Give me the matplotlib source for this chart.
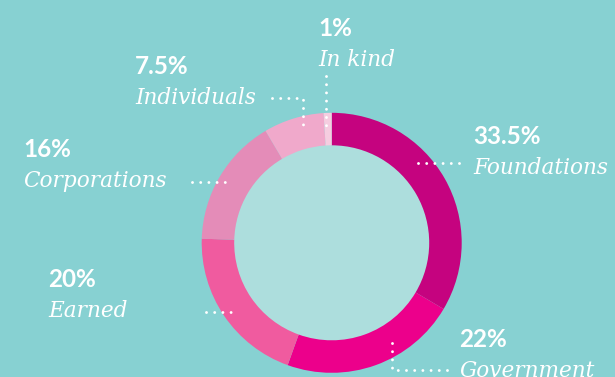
import matplotlib.pyplot as plt

# funding sources, clockwise from 12 o'clock
sources = ['Foundations', 'Government', 'Earned', 'Corporations', 'Individuals', 'In kind']
shares = [33.5, 22, 20, 16, 7.5, 1]
pct_labels = ['33.5%', '22%', '20%', '16%', '7.5%', '1%']
colors = ['#c5037f', '#ec008b', '#f05b9f', '#e48cb8', '#f0a9cb', '#f5cde0']

BG = '#87d1d2'
INNER = '#addedd'
W, H = 615, 377


def fy(y):
    # image pixel row -> data y (origin at bottom)
    return H - y


fig = plt.figure(figsize=(W / 100, H / 100), dpi=100, facecolor=BG)
ax = fig.add_axes([0, 0, 1, 1])
ax.set_facecolor(BG)

cx, cy = 331.7, fy(242.8)
ax.add_patch(plt.Circle((cx, cy), 98, color=INNER, zorder=0))
ax.pie(shares, colors=colors, startangle=90, counterclock=False,
       radius=130, center=(cx, cy),
       wedgeprops=dict(width=32.5, linewidth=0))

ax.set_xlim(0, W)
ax.set_ylim(0, H)
ax.set_aspect('auto')
ax.axis('off')

# label anchor: left x and baseline of the percentage (image pixels)
label_pos = {
    'Foundations': (473, 144),
    'Government': (459, 347),
    'Earned': (48, 287),
    'Corporations': (23, 157),
    'Individuals': (135, 74),
    'In kind': (318, 36),
}

for name, pct in zip(sources, pct_labels):
    x, yb = label_pos[name]
    ax.text(x, fy(yb), pct, family='Lato', weight='bold', fontsize=17.5,
            color='white', va='baseline', ha='left')
    ax.text(x, fy(yb + 30), name, family='DejaVu Serif', style='italic',
            fontsize=15.6, color='white', va='baseline', ha='left')

# dotted leader lines (image pixel coords)
leaders = [
    [(326, 76), (326, 127)],
    [(272, 98), (303, 98), (303, 127)],
    [(418, 163), (467, 163)],
    [(192, 182), (230, 182)],
    [(206, 312), (238, 312)],
    [(392, 343), (392, 370), (448, 370)],
]
for pts in leaders:
    xs = [p[0] for p in pts]
    ys = [fy(p[1]) for p in pts]
    ax.plot(xs, ys, color='white', lw=2.1, linestyle=(0, (0.01, 2.8)),
            dash_capstyle='round', zorder=3)

plt.savefig('out.png', dpi=100, facecolor=BG)
